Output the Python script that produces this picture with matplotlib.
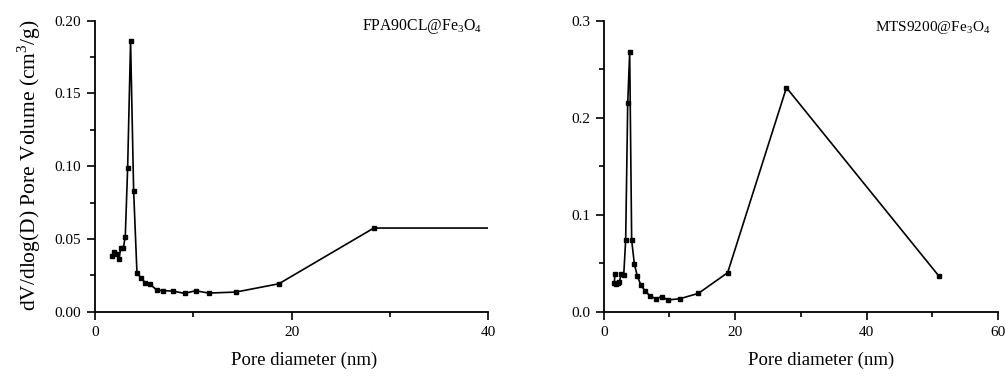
import matplotlib
matplotlib.use("Agg")
import matplotlib.pyplot as plt
from matplotlib.ticker import MultipleLocator

plt.rcParams['font.family'] = ['Liberation Serif', 'DejaVu Serif']
plt.rcParams['mathtext.fontset'] = 'custom'
plt.rcParams['mathtext.rm'] = 'Liberation Serif'

# FPA90CL@Fe3O4
d1 = [1.69, 1.96, 2.20, 2.44, 2.61, 2.88, 3.08, 3.32, 3.62, 3.93, 4.27, 4.67, 5.11,
      5.62, 6.27, 6.95, 7.89, 9.11, 10.23, 11.55, 14.33, 18.7, 28.35, 51.0]
v1 = [0.0385, 0.0408, 0.0397, 0.0362, 0.0436, 0.0436, 0.0516, 0.0985, 0.186, 0.0832,
      0.0264, 0.0234, 0.0199, 0.0188, 0.0149, 0.0144, 0.0142, 0.0126, 0.0144, 0.0128,
      0.0135, 0.0192, 0.0575, 0.0575]

# MTS9200@Fe3O4
d2 = [1.70, 1.60, 1.86, 2.11, 2.36, 2.67, 3.03, 3.33, 3.64, 3.94, 4.24, 4.65, 5.10,
      5.66, 6.27, 7.03, 7.95, 8.81, 9.77, 11.6, 14.4, 18.85, 27.8, 51.0]
v2 = [0.0389, 0.0299, 0.0286, 0.0299, 0.031, 0.0385, 0.0375, 0.0739, 0.2148, 0.2677,
      0.0739, 0.0492, 0.0368, 0.0272, 0.0216, 0.0162, 0.0134, 0.0155, 0.0121, 0.0134,
      0.0189, 0.0402, 0.231, 0.0368]

fig = plt.figure(figsize=(10.05, 3.78), dpi=100)
ax1 = fig.add_axes([0.0945, 0.1754, 0.3915, 0.7698])
ax2 = fig.add_axes([0.6008, 0.1754, 0.3922, 0.7698])

def style(ax, xlab_x):
    for s in ['top', 'right']:
        ax.spines[s].set_visible(False)
    for s in ['left', 'bottom']:
        ax.spines[s].set_linewidth(1.3)
    ax.tick_params(which='major', direction='out', length=6, width=1.2, labelsize=11, pad=4)
    ax.tick_params(which='minor', direction='out', length=3.5, width=1.2)
    ax.set_xlabel('Pore diameter (nm)', fontsize=13.5)
    ax.xaxis.set_label_coords(xlab_x, -0.166)
    ax.xaxis.label.set_va('center')

ax1.plot(d1, v1, color='black', lw=1.2, marker='s', ms=2.6, clip_on=True)
ax1.set_xlim(0, 40)
ax1.set_ylim(0, 0.20)
ax1.xaxis.set_major_locator(MultipleLocator(20))
ax1.xaxis.set_minor_locator(MultipleLocator(10))
ax1.yaxis.set_major_locator(MultipleLocator(0.05))
ax1.yaxis.set_minor_locator(MultipleLocator(0.025))
ax1.yaxis.set_major_formatter(plt.FormatStrFormatter('%.2f'))
style(ax1, 0.531)
ax1.set_ylabel('dV/dlog(D) Pore Volume (cm$^3$/g)', fontsize=15.5)
ax1.yaxis.set_label_coords(-0.168, 0.504)
ax1.yaxis.label.set_va('center')
ax1.text(0.983, 0.968, 'FPA90CL@Fe$_3$O$_4$', transform=ax1.transAxes,
         ha='right', va='baseline', fontsize=11.3)

ax2.plot(d2, v2, color='black', lw=1.2, marker='s', ms=2.6)
ax2.set_xlim(0, 60)
ax2.set_ylim(0, 0.3)
ax2.xaxis.set_major_locator(MultipleLocator(20))
ax2.xaxis.set_minor_locator(MultipleLocator(10))
ax2.yaxis.set_major_locator(MultipleLocator(0.1))
ax2.yaxis.set_minor_locator(MultipleLocator(0.05))
ax2.yaxis.set_major_formatter(plt.FormatStrFormatter('%.1f'))
style(ax2, 0.552)
ax2.text(0.980, 0.965, 'MTS9200@Fe$_3$O$_4$', transform=ax2.transAxes,
         ha='right', va='baseline', fontsize=11)

fig.savefig('out.png', dpi=100)
